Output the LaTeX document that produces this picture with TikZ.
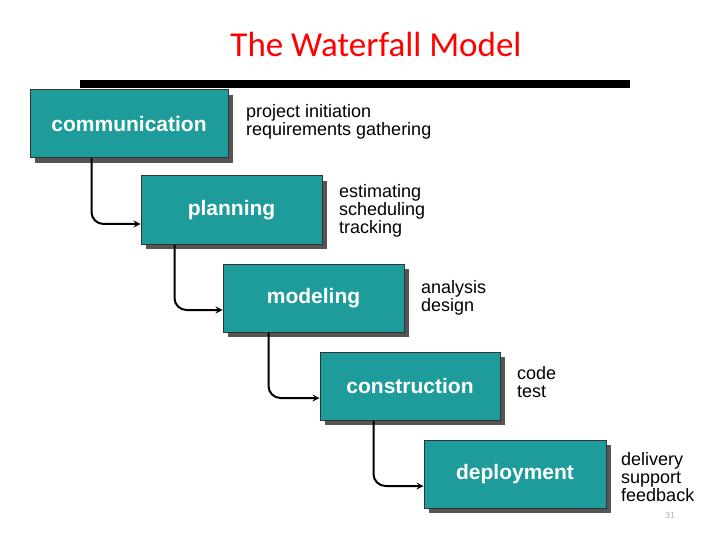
\documentclass[tikz,border=0pt]{standalone}
\usepackage{fontspec}
\usetikzlibrary{shadows}
\setmainfont{Liberation Sans}
\newfontfamily\titlefont{Carlito}
\definecolor{teal1}{HTML}{1E9C9C}
\definecolor{shad}{HTML}{555555}
\begin{document}
\begin{tikzpicture}[x=1pt,y=-1pt,
 phase/.style={draw=black!80,line width=1pt,fill=teal1,minimum width=#1,minimum height=68,inner sep=0,text=white,font=\fontsize{21}{21}\selectfont\bfseries,
  drop shadow={shadow xshift=5pt,shadow yshift=-5pt,fill=shad,opacity=1}},
 lbl/.style={anchor=west,align=left,font=\fontsize{18}{18}\selectfont,inner sep=0},
 flow/.style={->,>=stealth,line width=2pt,rounded corners=12}]
\useasboundingbox (0,0) rectangle (720,540);
\node[text=red,font=\titlefont\fontsize{35}{35}\selectfont] (t) at (376,44) {The Waterfall Model};
\fill (80,80) rectangle (630,88);
\node[phase=198] (c) at (129,124) {communication};
\node[phase=181] (p) at (231.5,210) {planning};
\node[phase=181] (m) at (313.5,298) {modeling};
\node[phase=180] (k) at (410,386) {construction};
\node[phase=182] (d) at (515,474) {deployment};
\node[lbl] (lc) at (246,122) {project initiation\\requirements gathering};
\node[lbl] (lp) at (339,211) {estimating\\scheduling\\tracking};
\node[lbl] (lm) at (421,298) {analysis\\design};
\node[lbl] (lk) at (517,382) {code\\test};
\node[lbl] (ld) at (621,477) {delivery\\support\\feedback};
\node[text=black!30,font=\fontsize{9}{9}\selectfont] (n) at (670,515) {31};
\draw[flow] (c.south west)++(62,0) coordinate (a1) |- ([yshift=-14]p.west);
\draw[flow] (p.south west)++(34,0) coordinate (a2) |- ([yshift=-12]m.west);
\draw[flow] (m.south west)++(46,0) coordinate (a3) |- ([yshift=-12]k.west);
\draw[flow] (k.south west)++(54,0) coordinate (a4) |- ([yshift=-12]d.west);
\end{tikzpicture}
\end{document}
